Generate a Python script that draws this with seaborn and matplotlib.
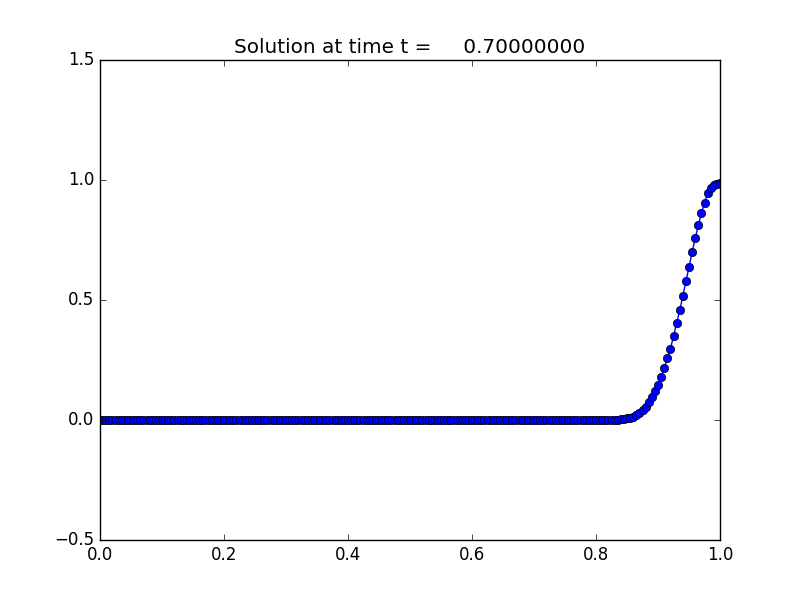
import numpy as np
import pandas as pd
import matplotlib
matplotlib.use('Agg')
import matplotlib.pyplot as plt
import seaborn as sns

# Solution values on the grid x = 0, 0.005, ..., 1
flat_part = [0.0] * 166          # x = 0.000 .. 0.825
front_part = [0.001, 0.002, 0.003, 0.005, 0.007, 0.010, 0.014, 0.021, 0.031,
              0.042, 0.056, 0.074, 0.095, 0.120, 0.146, 0.178, 0.215, 0.257,
              0.297, 0.349, 0.403, 0.457, 0.515, 0.578, 0.636, 0.699, 0.757,
              0.811, 0.861, 0.905, 0.944, 0.965, 0.979, 0.985, 0.988]
u_values = flat_part + front_part
x_values = np.linspace(0.0, 1.0, len(u_values))
time_t = 0.7

df = pd.DataFrame({'x': x_values, 'u': u_values})

plt.style.use('classic')
fig, ax = plt.subplots(figsize=(8, 6), dpi=100)
fig.patch.set_facecolor('white')

sns.lineplot(x='x', y='u', data=df, ax=ax, color='b', marker='o',
             markersize=6, markerfacecolor='b', markeredgecolor='k',
             markeredgewidth=0.5, linewidth=1)

ax.set_xlim(0.0, 1.0)
ax.set_ylim(-0.5, 1.5)
ax.set_xticks([0.0, 0.2, 0.4, 0.6, 0.8, 1.0])
ax.set_yticks([-0.5, 0.0, 0.5, 1.0, 1.5])
ax.set_xlabel('')
ax.set_ylabel('')
ax.set_title('Solution at time t = %14.8f' % time_t)

fig.savefig('out.png', dpi=100, facecolor='white')
